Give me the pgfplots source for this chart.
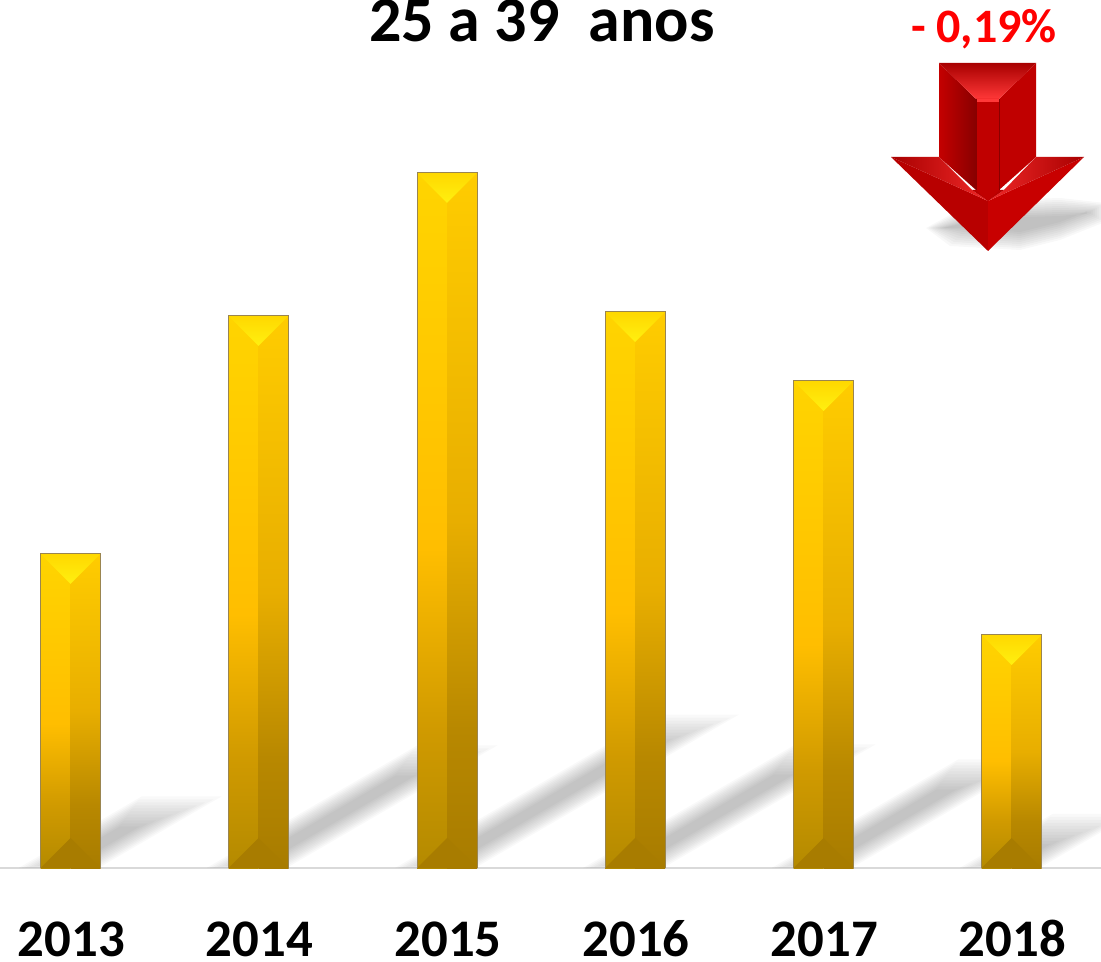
\documentclass[border=0pt]{standalone}
\usepackage{pgfplots}
\usepackage{fontspec}
\setmainfont{Carlito}
\pgfplotsset{compat=1.18}
\definecolor{barA}{HTML}{B48A00}
\definecolor{barB}{HTML}{D09A00}
\definecolor{barC}{HTML}{FFBE00}
\definecolor{barD}{HTML}{FFD400}
\definecolor{barE}{HTML}{A87C00}
\definecolor{barF}{HTML}{B88800}
\definecolor{barG}{HTML}{E8AE00}
\definecolor{barH}{HTML}{FFCC00}
\pgfdeclareverticalshading{barL}{100bp}{color(0bp)=(barA); color(25bp)=(barA); color(35bp)=(barB); color(48bp)=(barC); color(75bp)=(barD); color(100bp)=(barD)}
\pgfdeclareverticalshading{barR}{100bp}{color(0bp)=(barE); color(25bp)=(barE); color(35bp)=(barF); color(50bp)=(barG); color(75bp)=(barH); color(100bp)=(barH)}
\definecolor{triT}{HTML}{FFD800}
\definecolor{triB}{HTML}{FFF010}
\definecolor{botR}{HTML}{A87C00}
\definecolor{edgeC}{HTML}{9A8550}
\definecolor{arA}{HTML}{C40000}
\definecolor{arB}{HTML}{880000}
\definecolor{arC}{HTML}{C00000}
\definecolor{arD}{HTML}{A80000}
\definecolor{arE}{HTML}{FF3838}
\definecolor{arF}{HTML}{F02828}
\definecolor{arG}{HTML}{B80000}
\definecolor{arH}{HTML}{C80000}
\newcommand\barshadow[2]{%
  \pgfplotsinvokeforeach{-4,-1,2,5,8,11,14,17,20,23,26}{%
    \pgfmathsetmacro\yA{max(##1,0)*0.2}%
    \pgfmathsetmacro\yB{0.215*#2-##1*1.0}%
    \pgfmathsetmacro\xAl{#1-78+##1+1.72*\yA}%
    \pgfmathsetmacro\xAr{#1-6-##1+1.72*\yA}%
    \pgfmathsetmacro\xBl{#1-78+##1+1.72*\yB}%
    \pgfmathsetmacro\xBr{#1-6-##1+1.72*\yB}%
    \addplot[fill=black,draw=none,fill opacity=0.023] coordinates {(\xAl,\yA) (\xAr,\yA) (\xBr,\yB) (\xBl,\yB)} --cycle;
  }%
}
\newcommand\arrowshadow{%
  \pgfplotsinvokeforeach{0,1,2,3,4,5,6,7,8,9}{%
    \pgfmathsetmacro\sa{##1*2}%
    \pgfmathsetmacro\xa{926+\sa}\pgfmathsetmacro\xb{950+\sa}\pgfmathsetmacro\xd{1105-\sa}%
    \pgfmathsetmacro\yb{622+\sa}\pgfmathsetmacro\yc{618+\sa}\pgfmathsetmacro\yd{628+\sa}\pgfmathsetmacro\ye{646+\sa*0.6}\pgfmathsetmacro\yf{665-\sa*0.6}\pgfmathsetmacro\yg{670-\sa}\pgfmathsetmacro\yh{668-\sa}\pgfmathsetmacro\yi{653-\sa*0.4}%
    \addplot[fill=black,draw=none,fill opacity=0.026] coordinates {(\xa,640) (\xb,\yb) (1020,\yc) (1060,\yd) (\xd,\ye) (\xd,\yf) (1060,\yg) (1000,\yh) (\xb,\yi)} --cycle;
  }%
}
\newcommand\bevel[2]{%
  \pgfmathsetmacro\xl{#1-30}\pgfmathsetmacro\xr{#1+30}\pgfmathsetmacro\yt{#2-30}%
  \addplot[shade,shading=barL,draw=none] coordinates {(\xl,0) (#1,0) (#1,#2) (\xl,#2)} --cycle;
  \addplot[shade,shading=barR,draw=none] coordinates {(#1,0) (\xr,0) (\xr,#2) (#1,#2)} --cycle;
  \addplot[top color=triT,bottom color=triB,draw=none] coordinates {(\xl,#2) (\xr,#2) (#1,\yt)} --cycle;
  \addplot[fill=botR,draw=none] coordinates {(\xl,0) (#1,30) (\xr,0)} --cycle;
  \addplot[edgeC,line width=0.5pt] coordinates {(\xl,0) (\xl,#2) (\xr,#2) (\xr,0)};
}
\begin{document}
\begin{tikzpicture}
\useasboundingbox (0,-47pt) rectangle (550.5pt,434pt);
\begin{axis}[
  at={(0,0)},anchor=south west,
  scale only axis,width=550.5pt,height=434pt,
  xmin=0,xmax=1101,ymin=0,ymax=868,
  axis y line=none,axis x line=bottom,
  x axis line style={draw=black!15,line width=1pt,-},
  xtick={70.5,258.5,447,635,823.5,1011.5},
  xticklabels={2013,2014,2015,2016,2017,2018},
  xtick style={draw=none},
  xticklabel style={font=\fontsize{26.4}{30}\selectfont\bfseries,anchor=base,inner sep=0pt,yshift=-42pt,xshift=0.5pt},
]
% shadows behind everything
\barshadow{100.5}{314}
\barshadow{288.5}{552}
\barshadow{477}{695}
\barshadow{665}{556}
\barshadow{853.5}{487}
\barshadow{1041.5}{233}
\arrowshadow
% bars from the data
\addplot[ybar,bar width=30pt,fill=barC,draw=none] coordinates {(70.5,314) (258.5,552) (447,695) (635,556) (823.5,487) (1011.5,233)};
\bevel{70.5}{314}
\bevel{258.5}{552}
\bevel{447}{695}
\bevel{635}{556}
\bevel{823.5}{487}
\bevel{1011.5}{233}
% red arrow
\addplot[left color=arA,right color=arB,draw=none] coordinates {(939,805) (976,769) (976,678) (939,711)} --cycle;
\addplot[fill=arC,draw=none] coordinates {(1036,805) (999,769) (999,678) (1036,711)} --cycle;
\addplot[top color=arD,bottom color=arE,draw=none] coordinates {(939,805) (1036,805) (999,769) (976,769)} --cycle;
\addplot[fill=arG,draw=none] coordinates {(891,711) (988,667) (988,617)} --cycle;
\addplot[fill=arH,draw=none] coordinates {(1084,711) (988,667) (988,617)} --cycle;
\addplot[left color=arD,right color=arF,draw=none] coordinates {(891,711) (939,711) (972,678) (988,667)} --cycle;
\addplot[right color=arD,left color=arF,draw=none] coordinates {(1084,711) (1036,711) (1004,678) (988,667)} --cycle;
\addplot[fill=arG,draw=none] coordinates {(972,678) (1004,678) (988,667)} --cycle;
\addplot[fill=arC,draw=none] coordinates {(976,769) (999,769) (999,678) (988,667) (976,678)} --cycle;
\addplot[fill=arE,draw=none] coordinates {(976,769) (999,769) (999,766) (976,766)} --cycle;
\addplot[arB,line width=0.3pt] coordinates {(976,769) (976,678)};
\addplot[arB,line width=0.3pt] coordinates {(999,769) (999,678)};
\node[anchor=base,font=\fontsize{32}{36}\selectfont\bfseries,inner sep=0pt] at (axis cs:542,826) {25 a 39\ \ anos};
\node[anchor=base,font=\fontsize{24}{28}\selectfont\bfseries,text=red,inner sep=0pt] at (axis cs:984,825) {- 0,19\%};
\end{axis}
\end{tikzpicture}
\end{document}
